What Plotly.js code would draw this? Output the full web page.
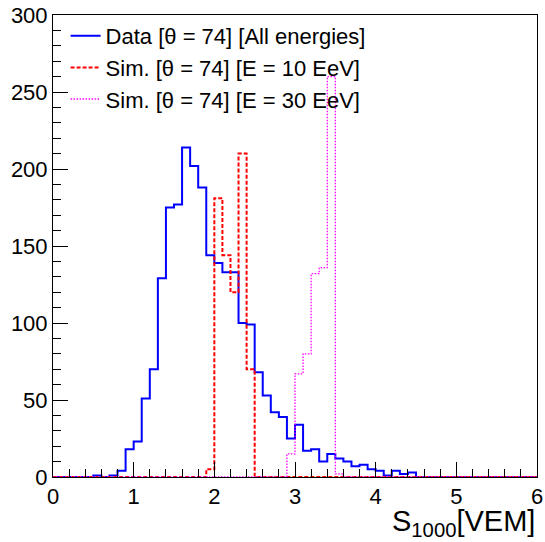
<!DOCTYPE html>
<html>
<head>
<meta charset="utf-8">
<script src="https://cdn.plot.ly/plotly-3.0.1.min.js"></script>
<style>html,body{margin:0;padding:0;background:#fff;}#chart{width:545px;height:542px;}</style>
</head>
<body>
<div id="chart"></div>
<script>
// Histogram binning: 60 bins of width 0.1 VEM from 0 to 6
const binLow = 0.0;
const binWidth = 0.1;
const nBins = 60;

// Data [theta = 74] [All energies]
const dataCounts = [
  0, 0, 0, 0, 0, 1, 0, 1, 4, 18,
  23, 51, 70, 129, 175, 177, 214, 202, 188, 144,
  139, 133, 133, 100, 99, 68, 53, 42, 39, 25,
  34, 17, 18, 10, 15, 12, 10, 7, 8, 5,
  4, 1, 4, 2, 3, 0, 0, 0, 0, 0,
  0, 0, 0, 0, 0, 0, 0, 0, 0, 0
];
// Sim. [theta = 74] [E = 10 EeV]
const sim10Counts = [
  0, 0, 0, 0, 0, 0, 0, 0, 0, 0,
  0, 0, 0, 0, 0, 0, 0, 0, 0, 5,
  181, 144, 120, 210, 70, 0, 0, 0, 0, 0,
  0, 0, 0, 0, 0, 0, 0, 0, 0, 0,
  0, 0, 0, 0, 0, 0, 0, 0, 0, 0,
  0, 0, 0, 0, 0, 0, 0, 0, 0, 0
];
// Sim. [theta = 74] [E = 30 EeV]
const sim30Counts = [
  0, 0, 0, 0, 0, 0, 0, 0, 0, 0,
  0, 0, 0, 0, 0, 0, 0, 0, 0, 0,
  0, 0, 0, 0, 0, 0, 0, 0, 0, 15,
  67, 80, 132, 136, 260, 2, 0, 0, 0, 0,
  0, 0, 0, 0, 0, 0, 0, 0, 0, 0,
  0, 0, 0, 0, 0, 0, 0, 0, 0, 0
];

const seriesNames = [
  "Data [θ = 74] [All energies]",
  "Sim. [θ = 74] [E = 10 EeV]",
  "Sim. [θ = 74] [E = 30 EeV]"
];
const xTitle = "S<sub>1000</sub>[VEM]";

const edges = [];
for (let i = 0; i <= nBins; i++) edges.push(+(binLow + i * binWidth).toFixed(4));
function stepY(c) { return c.concat([c[c.length - 1]]); }

const FONT = "Liberation Sans, Arial, Helvetica, sans-serif";

const traces = [
  {x: edges, y: stepY(dataCounts), name: seriesNames[0], type: "scatter", mode: "lines",
   line: {shape: "hv", color: "#0000ff", width: 2}},
  {x: edges, y: stepY(sim10Counts), name: seriesNames[1], type: "scatter", mode: "lines",
   line: {shape: "hv", color: "#ff0000", width: 2, dash: "4px,2px"}},
  {x: edges, y: stepY(sim30Counts), name: seriesNames[2], type: "scatter", mode: "lines",
   line: {shape: "hv", color: "#ff00ff", width: 1.3, dash: "1.5px,1.5px"}}
];

const axisCommon = {
  showgrid: false, zeroline: false, showline: true, linecolor: "#000", linewidth: 1, mirror: true,
  ticks: "inside", ticklen: 15, tickwidth: 1, tickcolor: "#000",
  tickfont: {family: FONT, size: 22, color: "#000"}
};

const layout = {
  width: 545, height: 542,
  margin: {l: 53, r: 8, t: 15, b: 65, pad: 0},
  paper_bgcolor: "#fff", plot_bgcolor: "#fff",
  font: {family: FONT, color: "#000"},
  showlegend: true,
  legend: {x: 0.026, y: 1.0, xanchor: "left", yanchor: "top", bgcolor: "rgba(0,0,0,0)",
           borderwidth: 0, font: {family: FONT, size: 22, color: "#000"}},
  xaxis: Object.assign({}, axisCommon, {range: [0, 6], tick0: 0, dtick: 1,
           minor: {dtick: 0.2, ticks: "inside", ticklen: 8, tickcolor: "#000", showgrid: false}}),
  yaxis: Object.assign({}, axisCommon, {range: [0, 300], tick0: 0, dtick: 50,
           minor: {dtick: 10, ticks: "inside", ticklen: 8, tickcolor: "#000", showgrid: false}}),
  annotations: [{
    text: xTitle, xref: "paper", yref: "paper", x: 1, y: 0, xanchor: "right", yanchor: "top",
    yshift: -26, showarrow: false, font: {family: FONT, size: 29, color: "#000"}
  }]
};

Plotly.newPlot("chart", traces, layout, {staticPlot: true, displayModeBar: false});
</script>
</body>
</html>
